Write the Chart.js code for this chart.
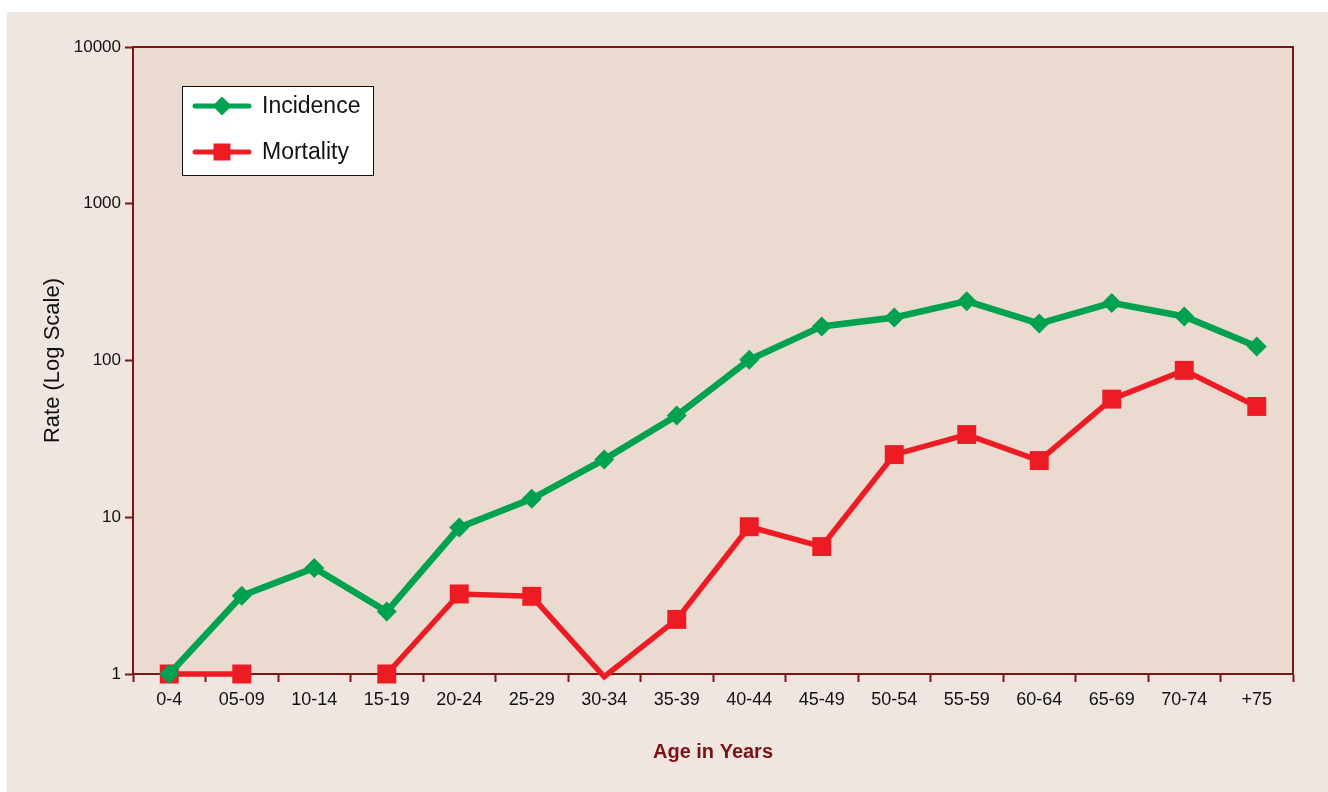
<!DOCTYPE html>
<html>
<head>
<meta charset="utf-8">
<script src="https://cdn.jsdelivr.net/npm/chart.js@4.4.1/dist/chart.umd.min.js"></script>
<style>
  html, body { margin: 0; padding: 0; background: #ffffff; }
  body { width: 1328px; height: 792px; position: relative; overflow: hidden; }
  .panel { position: absolute; left: 7px; top: 12px; width: 1321px; height: 780px; background: #f0e6e1; }
  #chart-wrap { position: absolute; left: 0; top: 0; width: 1328px; height: 792px; }
  #rates { display: block; }
</style>
</head>
<body>
<div class="panel"></div>
<div id="chart-wrap"><canvas id="rates" width="1328" height="792"></canvas></div>
<script>
// Age groups and rates per age group
const ageGroups = ['0-4', '05-09', '10-14', '15-19', '20-24', '25-29', '30-34', '35-39',
  '40-44', '45-49', '50-54', '55-59', '60-64', '65-69', '70-74', '+75'];
const incidence = [1, 3.16, 4.75, 2.5, 8.6, 13.1, 23.4, 44.6, 101, 165, 188, 239, 172, 233, 191, 123];
const mortality = [1, 1, null, 1, 3.24, 3.13, 0.96, 2.23, 8.7, 6.5, 25.1, 33.7, 23, 56.7, 86.5, 50.9];
const yTicks = [1, 10, 100, 1000, 10000];

const AXIS = '#7d1416';
const GREEN = '#00a14f';
const RED = '#ed1c24';
const SANS = "'Liberation Sans', Arial, sans-serif";

// fills the plot area and draws the frame around it
const plotFrame = {
  id: 'plotFrame',
  beforeDraw(chart) {
    const { ctx, chartArea: a } = chart;
    ctx.save();
    ctx.fillStyle = '#ebdad0';
    ctx.fillRect(a.left, a.top, a.right - a.left, a.bottom - a.top);
    ctx.restore();
  },
  beforeDatasetsDraw(chart) {
    const { ctx, chartArea: a } = chart;
    ctx.save();
    ctx.strokeStyle = AXIS;
    ctx.lineWidth = 2;
    ctx.beginPath();
    ctx.moveTo(a.left, a.top);
    ctx.lineTo(a.right, a.top);
    ctx.lineTo(a.right, a.bottom);
    ctx.stroke();
    ctx.restore();
  }
};

function legendMarker(ctx, style, x, y) {
  ctx.beginPath();
  if (style === 'rect') {
    ctx.rect(x - 8.5, y - 8.5, 17, 17);
  } else {
    ctx.moveTo(x, y - 9.5);
    ctx.lineTo(x + 9.5, y);
    ctx.lineTo(x, y + 9.5);
    ctx.lineTo(x - 9.5, y);
    ctx.closePath();
  }
  ctx.fill();
}

// boxed legend in the upper left of the plot
const boxLegend = {
  id: 'boxLegend',
  afterDraw(chart) {
    const { ctx } = chart;
    const x = 182, y = 86, w = 191, h = 89;
    ctx.save();
    ctx.fillStyle = '#ffffff';
    ctx.fillRect(x, y, w, h);
    ctx.strokeStyle = '#111111';
    ctx.lineWidth = 1;
    ctx.strokeRect(x + 0.5, y + 0.5, w, h);
    chart.data.datasets.forEach((ds, i) => {
      const cy = 106 + i * 46;
      ctx.strokeStyle = ds.borderColor;
      ctx.lineWidth = 5;
      ctx.lineCap = 'round';
      ctx.beginPath();
      ctx.moveTo(195, cy);
      ctx.lineTo(249, cy);
      ctx.stroke();
      ctx.fillStyle = ds.backgroundColor;
      legendMarker(ctx, ds.pointStyle, 222, cy);
      ctx.fillStyle = '#111111';
      ctx.font = '23px ' + SANS;
      ctx.textBaseline = 'middle';
      ctx.fillText(ds.label, 262, cy + 1);
    });
    ctx.restore();
  }
};

new Chart(document.getElementById('rates'), {
  type: 'line',
  data: {
    labels: ageGroups,
    datasets: [
      {
        label: 'Incidence',
        data: incidence,
        borderColor: GREEN,
        backgroundColor: GREEN,
        borderWidth: 6.5,
        pointStyle: 'rectRot',
        pointRadius: 10,
        pointBorderWidth: 0,
        tension: 0,
        clip: { left: 20, top: 20, right: 20, bottom: 14 }
      },
      {
        label: 'Mortality',
        data: mortality,
        borderColor: RED,
        backgroundColor: RED,
        borderWidth: 5.5,
        pointStyle: 'rect',
        // rates below the axis floor are drawn without a marker
        pointRadius: ctx => (ctx.raw !== null && ctx.raw < 1 ? 0 : 13.4),
        pointBorderWidth: 0,
        spanGaps: false,
        tension: 0,
        clip: { left: 20, top: 20, right: 20, bottom: 14 }
      }
    ]
  },
  options: {
    responsive: false,
    animation: false,
    devicePixelRatio: 1,
    layout: { padding: { left: 0, top: 47, right: 35, bottom: 0 } },
    plugins: {
      legend: { display: false },
      tooltip: { enabled: false }
    },
    scales: {
      x: {
        type: 'category',
        offset: true,
        grid: {
          offset: true,
          drawOnChartArea: false,
          drawTicks: true,
          tickLength: 8,
          tickWidth: 2,
          tickColor: AXIS
        },
        border: { display: true, color: AXIS, width: 2 },
        ticks: {
          color: '#111111',
          font: { family: SANS, size: 18 },
          padding: 7,
          maxRotation: 0,
          autoSkip: false
        },
        title: {
          display: true,
          text: 'Age in Years',
          color: '#7b1113',
          font: { family: SANS, size: 20, weight: 'bold' },
          padding: { top: 0, bottom: 28 }
        },
        afterFit(scale) { scale.height = 118; }
      },
      y: {
        type: 'logarithmic',
        min: 1,
        max: 10000,
        grid: {
          drawOnChartArea: false,
          drawTicks: true,
          tickLength: 8,
          tickWidth: 2,
          tickColor: AXIS
        },
        border: { display: true, color: AXIS, width: 2 },
        afterBuildTicks(scale) {
          scale.ticks = yTicks.map(v => ({ value: v }));
        },
        ticks: {
          color: '#111111',
          font: { family: SANS, size: 17 },
          padding: 4,
          callback: v => String(v)
        },
        title: {
          display: true,
          text: 'Rate (Log Scale)',
          color: '#111111',
          font: { family: SANS, size: 22 },
          padding: { top: 40, bottom: 0 }
        },
        afterFit(scale) { scale.width = 133; }
      }
    }
  },
  plugins: [plotFrame, boxLegend]
});
</script>
</body>
</html>
